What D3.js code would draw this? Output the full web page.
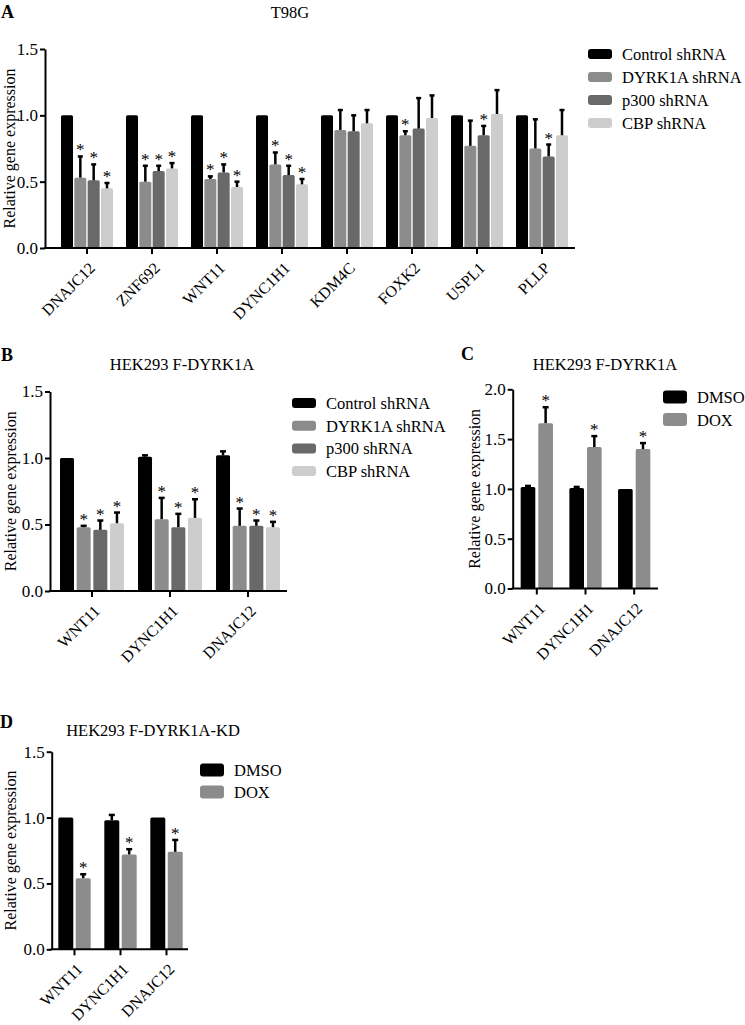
<!DOCTYPE html>
<html>
<head>
<meta charset="utf-8">
<script src="https://d3js.org/d3.v7.min.js"></script>
<style>
  body { margin: 0; background: #fff; }
  svg text { font-family: "Liberation Serif", "Times New Roman", serif; fill: #000; }
</style>
</head>
<body>
<div id="chart"></div>
<script>
// ---------- data ----------
var shSeries = ["Control shRNA", "DYRK1A shRNA", "p300 shRNA", "CBP shRNA"];
var doxSeries = ["DMSO", "DOX"];

// panel A - T98G
var genesA = ["DNAJC12", "ZNF692", "WNT11", "DYNC1H1", "KDM4C", "FOXK2", "USPL1", "PLLP"];
var ctrlA   = [1, 1, 1, 1, 1, 1, 1, 1];
var dyrkA   = [0.53, 0.50, 0.52, 0.63, 0.89, 0.85, 0.77, 0.75];
var p300A   = [0.51, 0.58, 0.57, 0.55, 0.88, 0.90, 0.85, 0.69];
var cbpA    = [0.45, 0.60, 0.46, 0.48, 0.94, 0.98, 1.01, 0.85];
var ctrlAErr = [0, 0, 0, 0, 0, 0, 0, 0];
var dyrkAErr = [0.16, 0.12, 0.02, 0.09, 0.15, 0.03, 0.19, 0.22];
var p300AErr = [0.12, 0.04, 0.06, 0.07, 0.12, 0.23, 0.07, 0.09];
var cbpAErr  = [0.04, 0.04, 0.04, 0.04, 0.10, 0.17, 0.18, 0.19];
var ctrlASig = [0, 0, 0, 0, 0, 0, 0, 0];
var dyrkASig = [1, 1, 1, 1, 0, 1, 0, 0];
var p300ASig = [1, 1, 1, 1, 0, 0, 1, 1];
var cbpASig  = [1, 1, 1, 1, 0, 0, 0, 0];

// panel B - HEK293 F-DYRK1A, shRNA
var genesB = ["WNT11", "DYNC1H1", "DNAJC12"];
var ctrlB  = [1.00, 1.01, 1.02];
var dyrkB  = [0.48, 0.54, 0.49];
var p300B  = [0.46, 0.48, 0.49];
var cbpB   = [0.51, 0.55, 0.48];
var ctrlBErr = [0, 0.01, 0.03];
var dyrkBErr = [0.01, 0.16, 0.13];
var p300BErr = [0.07, 0.10, 0.04];
var cbpBErr  = [0.08, 0.14, 0.04];
var ctrlBSig = [0, 0, 0];
var treatBSig = [1, 1, 1];

// panel C - HEK293 F-DYRK1A, DOX
var genesC = ["WNT11", "DYNC1H1", "DNAJC12"];
var dmsoC = [1.02, 1.01, 1.00];
var doxC  = [1.66, 1.42, 1.40];
var dmsoCErr = [0.01, 0.01, 0];
var doxCErr  = [0.16, 0.11, 0.06];

// panel D - HEK293 F-DYRK1A-KD, DOX
var genesD = ["WNT11", "DYNC1H1", "DNAJC12"];
var dmsoD = [1.00, 0.98, 1.00];
var doxD  = [0.54, 0.72, 0.74];
var dmsoDErr = [0, 0.04, 0];
var doxDErr  = [0.03, 0.04, 0.09];
var dmsoSig = [0, 0, 0];
var doxSig  = [1, 1, 1];

var ticks15 = [0, 0.5, 1.0, 1.5];
var ticks20 = [0, 0.5, 1.0, 1.5, 2.0];

var shColors = ["#000000", "#8c8c8c", "#696969", "#cdcdcd"];
var doxColors = ["#000000", "#8c8c8c"];

// ---------- drawing ----------
var svg = d3.select("#chart").append("svg")
  .attr("width", 745)
  .attr("height", 1025);

function drawPanel(p) {
  var g = svg.append("g");

  var y = d3.scaleLinear().domain([0, p.yTicks[p.yTicks.length - 1]]).range([p.y0, p.yTop]);
  var x0 = d3.scaleBand().domain(p.genes).range(p.xRange)
    .paddingInner(p.padGroup).paddingOuter(0.1);
  var x1 = d3.scaleBand().domain(p.series).range([0, x0.bandwidth()])
    .paddingInner(p.padBar);
  var color = d3.scaleOrdinal().domain(p.series).range(p.colors);

  var rows = [];
  p.series.forEach(function (s, i) {
    p.genes.forEach(function (gn, j) {
      rows.push({ series: s, gene: gn, mean: p.mean[i][j], err: p.err[i][j], sig: p.sig[i][j] });
    });
  });

  // bars
  g.selectAll(".bar")
    .data(rows)
    .enter().append("rect")
    .attr("x", function (d) { return x0(d.gene) + x1(d.series); })
    .attr("y", function (d) { return y(d.mean); })
    .attr("width", x1.bandwidth())
    .attr("height", function (d) { return y(0) - y(d.mean); })
    .attr("rx", 1.5)
    .attr("fill", function (d) { return color(d.series); });

  // upper error bars
  var eb = rows.filter(function (d) { return d.err > 0; });
  g.selectAll(".errv")
    .data(eb)
    .enter().append("line")
    .attr("x1", function (d) { return x0(d.gene) + x1(d.series) + x1.bandwidth() / 2; })
    .attr("x2", function (d) { return x0(d.gene) + x1(d.series) + x1.bandwidth() / 2; })
    .attr("y1", function (d) { return y(d.mean); })
    .attr("y2", function (d) { return y(d.mean + d.err); })
    .attr("stroke", "#000")
    .attr("stroke-width", 2.5);
  g.selectAll(".errc")
    .data(eb)
    .enter().append("line")
    .attr("x1", function (d) { return x0(d.gene) + x1(d.series) + x1.bandwidth() / 2 - p.cap; })
    .attr("x2", function (d) { return x0(d.gene) + x1(d.series) + x1.bandwidth() / 2 + p.cap; })
    .attr("y1", function (d) { return y(d.mean + d.err); })
    .attr("y2", function (d) { return y(d.mean + d.err); })
    .attr("stroke", "#000")
    .attr("stroke-width", 2.5);

  // significance stars
  g.selectAll(".star")
    .data(rows.filter(function (d) { return d.sig; }))
    .enter().append("text")
    .attr("x", function (d) { return x0(d.gene) + x1(d.series) + x1.bandwidth() / 2; })
    .attr("y", function (d) { return y(d.mean + d.err) - 1; })
    .attr("text-anchor", "middle")
    .style("font-size", "17px")
    .text("*");

  // y axis
  var ya = g.append("g")
    .attr("transform", "translate(" + p.axisX + ",0)")
    .call(d3.axisLeft(y).tickValues(p.yTicks).tickFormat(d3.format(".1f")).tickSize(5).tickSizeOuter(0));
  ya.select(".domain").attr("stroke-width", 2);
  ya.selectAll(".tick line").attr("stroke-width", 2);
  ya.selectAll(".tick text").style("font-size", "17px").attr("x", -7);

  // x axis
  var xa = g.append("g")
    .attr("transform", "translate(0," + p.y0 + ")")
    .call(d3.axisBottom(x0).tickSize(6));
  xa.select(".domain").remove();
  xa.append("line")
    .attr("x1", p.axisX - 1).attr("x2", p.xEnd)
    .attr("y1", 0).attr("y2", 0)
    .attr("stroke", "#000").attr("stroke-width", 2);
  xa.selectAll(".tick line").attr("stroke-width", 2);
  xa.selectAll(".tick text")
    .attr("y", null).attr("dy", null)
    .attr("text-anchor", "end")
    .attr("transform", "translate(9,21) rotate(-45)")
    .style("font-size", "16px");

  // axis title
  g.append("text")
    .attr("transform", "translate(" + p.titleX + "," + ((p.y0 + p.yTop) / 2) + ") rotate(-90)")
    .attr("text-anchor", "middle")
    .style("font-size", "16px")
    .text("Relative gene expression");

  // panel title and letter
  g.append("text")
    .attr("x", p.headX).attr("y", p.headY)
    .attr("text-anchor", "middle")
    .style("font-size", "16.5px")
    .text(p.head);
  g.append("text")
    .attr("x", p.letterX).attr("y", p.letterY)
    .style("font-size", "18px")
    .style("font-weight", "bold")
    .text(p.letter);

  // legend
  var lg = g.selectAll(".legend")
    .data(p.series)
    .enter().append("g")
    .attr("transform", function (d, i) { return "translate(" + p.legX + "," + (p.legY + i * p.legStep) + ")"; });
  lg.append("rect")
    .attr("x", 0).attr("y", -p.swH / 2)
    .attr("width", 24).attr("height", p.swH)
    .attr("rx", 3)
    .attr("fill", function (d) { return color(d); });
  lg.append("text")
    .attr("x", 34).attr("y", 6)
    .style("font-size", "16.5px")
    .text(function (d) { return d; });
}

drawPanel({
  letter: "A", letterX: 1, letterY: 18, head: "T98G", headX: 290, headY: 18,
  genes: genesA, series: shSeries, colors: shColors,
  mean: [ctrlA, dyrkA, p300A, cbpA],
  err: [ctrlAErr, dyrkAErr, p300AErr, cbpAErr],
  sig: [ctrlASig, dyrkASig, p300ASig, cbpASig],
  yTicks: ticks15, y0: 248, yTop: 49,
  axisX: 45, xEnd: 575, xRange: [54.5, 574.5], padGroup: 0.2, padBar: 0.1, cap: 2.5,
  titleX: 15, legX: 588, legY: 54, legStep: 23, swH: 10
});

drawPanel({
  letter: "B", letterX: 1, letterY: 361, head: "HEK293 F-DYRK1A", headX: 182, headY: 370,
  genes: genesB, series: shSeries, colors: shColors,
  mean: [ctrlB, dyrkB, p300B, cbpB],
  err: [ctrlBErr, dyrkBErr, p300BErr, cbpBErr],
  sig: [ctrlBSig, treatBSig, treatBSig, treatBSig],
  yTicks: ticks15, y0: 591, yTop: 391.5,
  axisX: 50, xEnd: 287, xRange: [52.2, 287.8], padGroup: 0.18, padBar: 0.16, cap: 3,
  titleX: 16, legX: 292, legY: 403, legStep: 22.7, swH: 10
});

drawPanel({
  letter: "C", letterX: 461, letterY: 360, head: "HEK293 F-DYRK1A", headX: 605, headY: 370,
  genes: genesC, series: doxSeries, colors: doxColors,
  mean: [dmsoC, doxC],
  err: [dmsoCErr, doxCErr],
  sig: [dmsoSig, doxSig],
  yTicks: ticks20, y0: 588.5, yTop: 389.3,
  axisX: 512.7, xEnd: 658, xRange: [515.8, 655.2], padGroup: 0.337, padBar: 0.17, cap: 3,
  titleX: 480, legX: 663, legY: 397, legStep: 22.5, swH: 13
});

drawPanel({
  letter: "D", letterX: 0, letterY: 728, head: "HEK293 F-DYRK1A-KD", headX: 153, headY: 736,
  genes: genesD, series: doxSeries, colors: doxColors,
  mean: [dmsoD, doxD],
  err: [dmsoDErr, doxDErr],
  sig: [dmsoSig, doxSig],
  yTicks: ticks15, y0: 949.3, yTop: 751.7,
  axisX: 51.7, xEnd: 188, xRange: [53.7, 187.3], padGroup: 0.296, padBar: 0.14, cap: 3,
  titleX: 16, legX: 200, legY: 770, legStep: 22, swH: 13
});
</script>
</body>
</html>
